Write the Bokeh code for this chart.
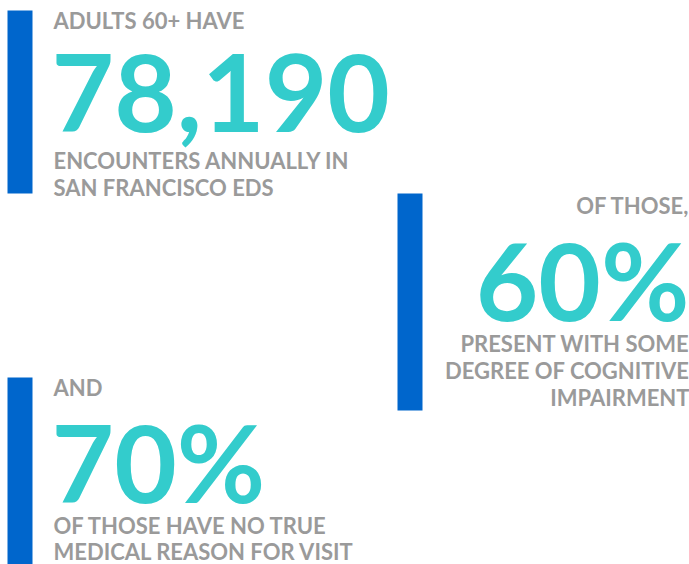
from bokeh.plotting import figure
from bokeh.models import Range1d, ColumnDataSource
from bokeh.core.properties import value
from bokeh.embed import file_html
from bokeh.resources import INLINE

# ---- data ----
encounters = 78190
cognitive_pct = 60
no_reason_pct = 70
big_numbers = [f"{encounters:,}", f"{cognitive_pct}%", f"{no_reason_pct}%"]
intro_labels = ["ADULTS 60+ HAVE", "OF THOSE,", "AND"]
desc_lines = [
    ["ENCOUNTERS ANNUALLY IN", "SAN FRANCISCO EDS"],
    ["PRESENT WITH SOME", "DEGREE OF COGNITIVE", "IMPAIRMENT"],
    ["OF THOSE HAVE NO TRUE", "MEDICAL REASON FOR VISIT"],
]

# ---- layout (screen pixel coords from top-left) ----
W, H = 689, 564
SMALL, BIG = 22, 108
SHIFT = 0.34  # baseline compensation (em)

def Y(v):
    return H - v

def YB(v, size):
    return H - (v - SHIFT * size)

bars = dict(left=[7, 397, 7], right=[32, 422, 32],
            top=[Y(10), Y(193), Y(377)], bottom=[Y(193), Y(410), Y(564)])
anchor_x = [53, 689, 53]
big_x = [51, 689, 51]
align = ["left", "right", "left"]
intro_base = [27, 212, 394]
big_base = [129, 315, 497]
desc_base = [[167, 194], [350, 377, 404], [532, 558]]

GRAY = "#9a9a9a"
TEAL = "#33cccc"
BLUE = "#0066cc"
FONT = value("Lato")

p = figure(width=W, height=H, x_range=Range1d(0, W), y_range=Range1d(0, H),
           output_backend="svg", toolbar_location=None, min_border=0)
p.axis.visible = False
p.grid.visible = False
p.outline_line_color = None
p.background_fill_color = "white"
p.border_fill_color = "white"

p.quad(source=ColumnDataSource(bars), left="left", right="right", top="top", bottom="bottom",
       fill_color=BLUE, line_color=None)

for i in range(3):
    p.text(x=[anchor_x[i]], y=[YB(intro_base[i], SMALL)], text=[intro_labels[i]], text_font=FONT,
           text_font_style="bold", text_font_size=f"{SMALL}px", text_color=GRAY,
           text_align=align[i], text_baseline="alphabetic")
    p.text(x=[big_x[i]], y=[YB(big_base[i], BIG)], text=[big_numbers[i]], text_font=FONT,
           text_font_style="bold", text_font_size=f"{BIG}px", text_color=TEAL,
           text_align=align[i], text_baseline="alphabetic")
    n = len(desc_lines[i])
    p.text(x=[anchor_x[i]] * n, y=[YB(b, SMALL) for b in desc_base[i]], text=desc_lines[i],
           text_font=FONT, text_font_style="bold", text_font_size=f"{SMALL}px", text_color=GRAY,
           text_align=align[i], text_baseline="alphabetic")

open("out.html", "w").write(file_html(p, INLINE))
